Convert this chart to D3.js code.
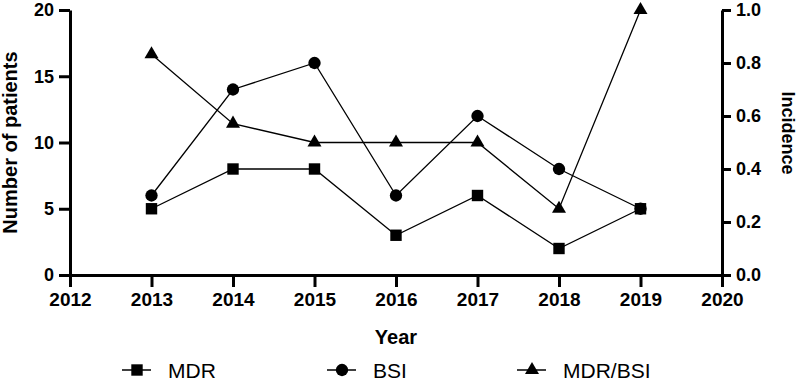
<!DOCTYPE html>
<html><head><meta charset="utf-8">
<script src="https://cdn.jsdelivr.net/npm/d3@7"></script>
<style>body{margin:0;background:#fff}svg{display:block}text{font-family:"Liberation Sans",Arial,sans-serif}</style>
</head><body><svg id="c" width="800" height="381"></svg>
<script>
const years = [2013, 2014, 2015, 2016, 2017, 2018, 2019];
const mdr = [5, 8, 8, 3, 6, 2, 5];
const bsi = [6, 14, 16, 6, 12, 8, 5];
const ratio = [0.833, 0.571, 0.5, 0.5, 0.5, 0.25, 1.0];
const xTicks = [2012, 2013, 2014, 2015, 2016, 2017, 2018, 2019, 2020];
const yLeftTicks = [0, 5, 10, 15, 20];
const yRightTicks = [0, 0.2, 0.4, 0.6, 0.8, 1.0];
const legendNames = ["MDR", "BSI", "MDR/BSI"];

const svg = d3.select("#c");
const L = 70, R = 722, T = 10, B = 275;
const x = d3.scaleLinear().domain([2012, 2020]).range([L, R]);
const yL = d3.scaleLinear().domain([0, 20]).range([B, T]);
const yR = d3.scaleLinear().domain([0, 1]).range([B, T]);

function styleAxis(g, size){
  g.select(".domain").attr("stroke","#000").attr("stroke-width",3);
  g.selectAll(".tick line").attr("stroke","#000").attr("stroke-width",3);
  g.selectAll(".tick text").attr("font-size",size).attr("font-weight","bold").attr("fill","#000")
   .attr("font-family","'Liberation Sans',Arial,sans-serif");
}
const gx = svg.append("g").attr("transform",`translate(0,${B})`)
  .call(d3.axisBottom(x).tickValues(xTicks).tickFormat(d3.format("d")).tickSize(12).tickSizeOuter(0).tickPadding(6));
styleAxis(gx, 19);
const gl = svg.append("g").attr("transform",`translate(${L},0)`)
  .call(d3.axisLeft(yL).tickValues(yLeftTicks).tickSize(11).tickSizeOuter(0).tickPadding(5));
styleAxis(gl, 18);
const gr = svg.append("g").attr("transform",`translate(${R},0)`)
  .call(d3.axisRight(yR).tickValues(yRightTicks).tickFormat(d3.format(".1f")).tickSize(9).tickSizeOuter(0).tickPadding(5));
styleAxis(gr, 18);

svg.append("text").attr("x",396).attr("y",344).attr("text-anchor","middle")
  .attr("font-size",20).attr("font-weight","bold").text("Year");
svg.append("text").attr("transform","translate(17,142.5) rotate(-90)").attr("text-anchor","middle")
  .attr("font-size",20).attr("font-weight","bold").text("Number of patients");
svg.append("text").attr("transform","translate(782,133) rotate(90)").attr("text-anchor","middle")
  .attr("font-size",18).attr("font-weight","bold").text("Incidence");

const sq = d3.symbol().type(d3.symbolSquare).size(130);
const ci = d3.symbol().type(d3.symbolCircle).size(120);
const tr = d3.symbol().type(d3.symbolTriangle).size(85);

function series(vals, yScale, sym){
  const pts = years.map((yr,i)=>[x(yr), yScale(vals[i])]);
  svg.append("path").attr("d", d3.line()(pts)).attr("fill","none").attr("stroke","#000").attr("stroke-width",1.3);
  svg.selectAll(null).data(pts).enter().append("path")
    .attr("d", sym).attr("transform", d=>`translate(${d[0]},${d[1]})`).attr("fill","#000");
}
series(ratio, yR, tr);
series(mdr, yL, sq);
series(bsi, yL, ci);

const legX = [137, 342, 532];
const syms = [sq, ci, tr];
legendNames.forEach((n,i)=>{
  const cy = 370;
  svg.append("line").attr("x1",legX[i]-15).attr("x2",legX[i]+14).attr("y1",cy).attr("y2",cy).attr("stroke","#000").attr("stroke-width",1.5);
  svg.append("path").attr("d", syms[i]).attr("transform",`translate(${legX[i]},${cy})`).attr("fill","#000");
  svg.append("text").attr("x",legX[i]+31).attr("y",cy+8).attr("font-size",21).text(n);
});
</script></body></html>
